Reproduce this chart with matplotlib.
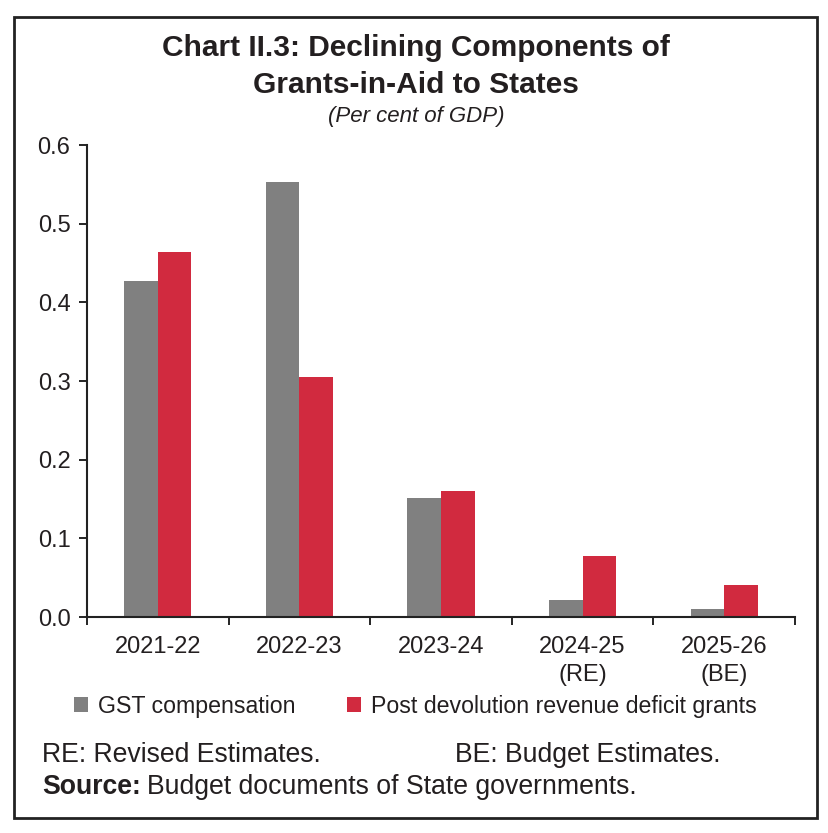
import numpy as np
import matplotlib
matplotlib.use("Agg")
import matplotlib.pyplot as plt
from matplotlib.patches import Rectangle

plt.rcParams['font.family'] = ['Liberation Sans', 'DejaVu Sans']

# data (per cent of GDP)
years = ["2021-22", "2022-23", "2023-24", "2024-25\n(RE)", "2025-26\n(BE)"]
gst_comp = [0.427, 0.553, 0.151, 0.021, 0.010]
rev_deficit = [0.464, 0.305, 0.160, 0.077, 0.041]
series_names = ["GST compensation", "Post devolution revenue deficit grants"]
colors = ["#808080", "#D12A3F"]
txt_col = '#231f20'

fig = plt.figure(figsize=(8.29, 8.33), dpi=100)
ax = fig.add_axes([0.105, 0.2593, 0.854, 0.5666])

x = np.arange(len(years))
w = 0.237
b1 = ax.bar(x - w / 2, gst_comp, w, color=colors[0], label=series_names[0])
b2 = ax.bar(x + w / 2, rev_deficit, w, color=colors[1], label=series_names[1])

ax.set_xlim(-0.5, len(years) - 0.5)
ax.set_ylim(0, 0.6)
yt = np.arange(0, 0.61, 0.1)
ax.set_yticks(yt)
ax.set_yticklabels([f"{v:.1f}" for v in yt], color=txt_col)

# x ticks on category boundaries, labels at centres
ax.set_xticks(np.arange(-0.5, len(years), 1.0))
ax.set_xticklabels([])
ax.set_xticks(x, minor=True)
ax.set_xticklabels(years, minor=True, linespacing=1.35, color=txt_col)
ax.tick_params(axis='x', which='minor', length=0, pad=14, labelsize=17)
ax.tick_params(axis='x', which='major', length=6, width=1.2, direction='out')
ax.tick_params(axis='y', length=6, width=1.2, direction='out', labelsize=17, pad=6)

for s in ['top', 'right']:
    ax.spines[s].set_visible(False)
for s in ['left', 'bottom']:
    ax.spines[s].set_linewidth(1.5)
    ax.spines[s].set_color('#222222')

# title block
fig.text(0.502, 0.942, "Chart II.3: Declining Components of", ha='center', va='center',
         fontsize=21.5, fontweight='bold', color=txt_col)
fig.text(0.502, 0.898, "Grants-in-Aid to States", ha='center', va='center',
         fontsize=21.5, fontweight='bold', color=txt_col)
fig.text(0.502, 0.860, "(Per cent of GDP)", ha='center', va='center',
         fontsize=16, fontstyle='italic', color=txt_col)

# legend
leg = fig.legend(handles=[b1, b2], labels=series_names, loc='center',
                 bbox_to_anchor=(0.501, 0.152), ncol=2, frameon=False,
                 fontsize=16.7, handlelength=0.6, handleheight=0.6,
                 handletextpad=0.43, columnspacing=2.2)
for t in leg.get_texts():
    t.set_color(txt_col)

# notes
fig.text(0.051, 0.094, "RE: Revised Estimates.", fontsize=19.2, va='center', color=txt_col)
fig.text(0.549, 0.094, "BE: Budget Estimates.", fontsize=19.2, va='center', color=txt_col)
src = fig.text(0.051, 0.055, "Source:", fontsize=19.2, fontweight='bold', va='center',
               color=txt_col)
fig.add_artist(plt.Annotation("Budget documents of State governments.", xy=(1, 0.5),
                              xycoords=src, xytext=(6, 0), textcoords='offset pixels',
                              va='center', fontsize=19.2, color=txt_col))

# outer frame
fig.patches.append(Rectangle((0.017, 0.018), 0.968, 0.962, transform=fig.transFigure,
                             fill=False, edgecolor='#222222', linewidth=2))

fig.savefig("out.png", dpi=100)
